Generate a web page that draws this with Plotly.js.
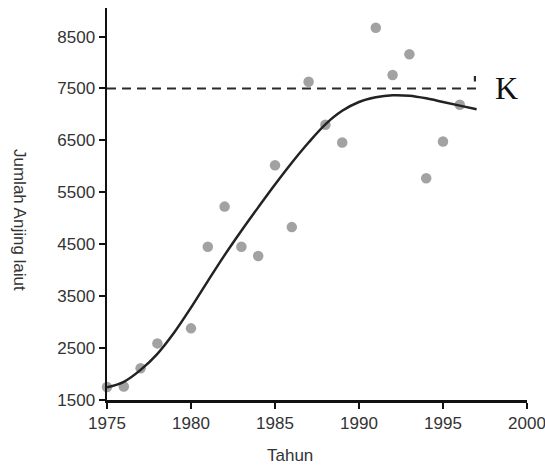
<!DOCTYPE html>
<html>
<head>
<meta charset="utf-8">
<script src="https://cdn.plot.ly/plotly-3.0.1.min.js"></script>
<style>html,body{margin:0;padding:0;background:#fff;}#chart{width:545px;height:476px;overflow:hidden;}</style>
</head>
<body>
<div id="chart"></div>
<script>
// Observed data points (year, seal count)
const obsYears  = [1975,1976,1977,1978,1980,1981,1982,1983,1984,1985,1986,1987,1988,1989,1991,1992,1993,1994,1995,1996];
const obsCounts = [1750,1760,2110,2590,2880,4450,5225,4450,4275,6020,4830,7630,6800,6460,8670,7760,8160,5770,6480,7185];

// Fitted curve
const fitYears  = [1975,1976,1977,1978,1979,1980,1981,1982,1983,1984,1985,1986,1987,1988,1989,1990,1991,1992,1993,1994,1995,1996,1997];
const fitCounts = [1745,1850,2080,2390,2800,3280,3790,4290,4760,5210,5650,6070,6460,6810,7070,7240,7330,7370,7360,7310,7240,7170,7100];

// Carrying capacity line
const capYears  = [1975,1996.9,1996.9];
const capCounts = [7500,7500,7740];
const capLabel  = "K";

const xTicks = [1975,1980,1985,1990,1995,2000];
const yTicks = [1500,2500,3500,4500,5500,6500,7500,8500];

const xTitle = "Tahun";
const yTitle = "Jumlah Anjing laiut";

const traces = [
  {x: capYears, y: capCounts, mode: 'lines', line: {color: '#2a2a2a', width: 2.2, dash: '9px,6px'}, hoverinfo: 'skip', cliponaxis: false},
  {x: obsYears, y: obsCounts, mode: 'markers', marker: {color: 'rgb(162,162,162)', size: 10.5}, cliponaxis: false},
  {x: fitYears, y: fitCounts, mode: 'lines', line: {color: '#222', width: 2.5, shape: 'spline', smoothing: 1}, cliponaxis: false}
];

const L = 107, R = 18, T = 8, B = 76, W = 545, H = 476;
const pw = W - L - R, ph = H - T - B;
const px = v => (v - L) / pw;
const py = v => 1 - (v - T) / ph;

const layout = {
  width: W, height: H,
  margin: {l: L, r: R, t: T, b: B},
  paper_bgcolor: '#fff', plot_bgcolor: '#fff',
  showlegend: false,
  font: {family: 'Liberation Sans, Arial, sans-serif', color: '#333'},
  xaxis: {
    range: [1975, 2000], tickvals: xTicks, ticktext: xTicks.map(String),
    showgrid: false, zeroline: false, showline: true, linecolor: '#111', linewidth: 2.5,
    ticks: 'outside', ticklen: 6, tickwidth: 2, tickcolor: '#111',
    ticklabeloverflow: 'allow',
    tickfont: {size: 17, color: '#333'}
  },
  yaxis: {
    range: [1500, 9050], tickvals: yTicks, ticktext: yTicks.map(String),
    showgrid: false, zeroline: false, showline: true, linecolor: '#111', linewidth: 2.5,
    ticks: 'outside', ticklen: 6, tickwidth: 2, tickcolor: '#111',
    tickfont: {size: 17, color: '#333'}
  },
  annotations: [
    {x: 1998.8, y: 7500, xref: 'x', yref: 'y', text: capLabel, showarrow: false,
     font: {family: 'Liberation Serif, Times New Roman, serif', size: 32, color: '#111'}},
    {x: px(20), y: py(220), xref: 'paper', yref: 'paper', text: yTitle, showarrow: false,
     textangle: 90, xanchor: 'center', yanchor: 'middle', font: {size: 17, color: '#333'}},
    {x: 1985.9, y: py(455), xref: 'x', yref: 'paper', text: xTitle, showarrow: false,
     xanchor: 'center', yanchor: 'middle', font: {size: 17, color: '#333'}}
  ]
};

Plotly.newPlot('chart', traces, layout, {displayModeBar: false, staticPlot: true});
</script>
</body>
</html>
